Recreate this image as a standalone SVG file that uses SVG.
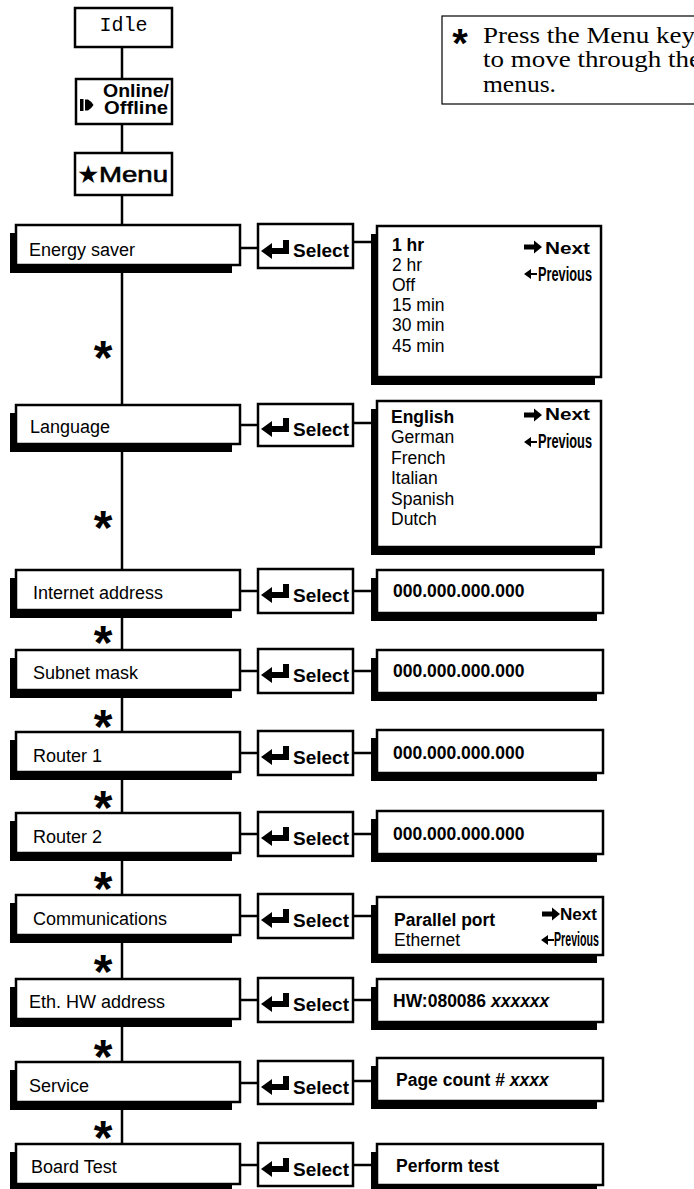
<svg xmlns="http://www.w3.org/2000/svg" width="694" height="1189" viewBox="0 0 694 1189">
<style>
.bx{fill:#fff;stroke:#000;stroke-width:2.5}
.sh{fill:#000}
.ln{stroke:#000;stroke-width:2.5;fill:none}
.lbl{font-family:"Liberation Sans",Arial,sans-serif;font-size:18px;fill:#000}
.opt{font-family:"Liberation Sans",Arial,sans-serif;font-size:17.5px;fill:#000}
.b{font-weight:bold}
.i{font-style:italic}
.sel{font-family:"Liberation Sans",Arial,sans-serif;font-size:19px;font-weight:bold;fill:#000}
.ast{font-family:"Liberation Sans",Arial,sans-serif;font-size:48px;font-weight:bold;fill:#000;text-anchor:middle}
.nav{font-family:"Liberation Sans",Arial,sans-serif;font-size:17px;font-weight:bold;fill:#000}
.prv{font-family:"Liberation Sans",Arial,sans-serif;font-size:19.5px;font-weight:bold;fill:#000}
.note{font-family:"Liberation Serif","Times New Roman",serif;font-size:24px;fill:#000}
</style>
<defs>
<path id="enter" d="M3,27 L14,19 L14,24 L25,24 L25,16 L31,16 L31,30 L14,30 L14,35 Z" fill="#000"/>
<path id="nxt" d="M0,-2.5 H10 V-6.5 L18,0 L10,6.5 V2.5 H0 Z" fill="#000"/>
<path id="prv" d="M0,0 L7,-5 V-1 H13 V1 H7 V5 Z" fill="#000"/>
</defs>

<g id="connectors">
<path class="ln" d="M122,47 V1150"/>
<path class="ln" d="M240,248 H258 M353,242 H377"/>
<path class="ln" d="M240,425 H258 M353,423 H377"/>
<path class="ln" d="M240,591 H258 M353,591 H377"/>
<path class="ln" d="M240,671 H258 M353,671 H377"/>
<path class="ln" d="M240,753 H258 M353,753 H377"/>
<path class="ln" d="M240,834 H258 M353,834 H377"/>
<path class="ln" d="M240,916 H258 M353,916 H377"/>
<path class="ln" d="M240,1000 H258 M353,1000 H377"/>
<path class="ln" d="M240,1083 H258 M353,1081 H377"/>
<path class="ln" d="M240,1165 H258 M353,1165 H377"/>
<text class="ast" x="103" y="374">*</text>
<text class="ast" x="103" y="544">*</text>
<text class="ast" x="103" y="659">*</text>
<text class="ast" x="103" y="743">*</text>
<text class="ast" x="103" y="824">*</text>
<text class="ast" x="103" y="905">*</text>
<text class="ast" x="103" y="988">*</text>
<text class="ast" x="103" y="1073">*</text>
<text class="ast" x="103" y="1154">*</text>
</g>

<g id="note">
<rect x="442" y="16" width="270" height="88" fill="none" stroke="#000" stroke-width="1.2"/>
<text class="ast" x="460" y="57" style="font-size:40px">*</text>
<text class="note" x="483" y="43" textLength="212" lengthAdjust="spacingAndGlyphs">Press the Menu key</text>
<text class="note" x="483" y="67" textLength="218" lengthAdjust="spacingAndGlyphs">to move through the</text>
<text class="note" x="483" y="92" textLength="73" lengthAdjust="spacingAndGlyphs">menus.</text>
</g>

<g id="idle">
<rect class="bx" x="75" y="8" width="97" height="39" stroke-width="2"/>
<text x="123.5" y="31" text-anchor="middle" style="font-family:'Liberation Mono','Courier New',monospace;font-size:20px">Idle</text>
</g>

<g id="online">
<rect class="bx" x="76" y="79" width="96" height="45" stroke-width="2.2"/>
<rect x="80" y="99" width="3.5" height="12" fill="#000"/>
<path d="M85,99.5 H88 Q91,101 93.5,105 Q91,109 88,110.5 H85 Z" fill="#000"/>
<text class="sel" x="103" y="97" textLength="66" lengthAdjust="spacingAndGlyphs" style="font-size:18px">Online/</text>
<text class="sel" x="104" y="114" textLength="64" lengthAdjust="spacingAndGlyphs" style="font-size:18px">Offline</text>
</g>

<g id="menu">
<rect class="bx" x="75" y="153" width="97" height="42" stroke-width="3"/>
<text x="77" y="183" style="font-family:'DejaVu Sans',sans-serif;font-size:25px">★</text>
<text x="99" y="182" textLength="69" lengthAdjust="spacingAndGlyphs" style="font-family:'Liberation Sans',Arial,sans-serif;font-size:22px;stroke:#000;stroke-width:0.6">Menu</text>
</g>

<!-- Row: Energy saver -->
<g id="energy-saver">
<rect class="sh" x="10" y="233" width="222" height="40"/>
<rect class="bx" x="16" y="225" width="224" height="40"/>
<text class="lbl" x="29" y="256">Energy saver</text>
</g>
<g id="energy-select">
<rect class="bx" x="258" y="224" width="95" height="44"/>
<use href="#enter" x="258" y="224"/>
<text class="sel" x="293" y="257" textLength="56" lengthAdjust="spacingAndGlyphs">Select</text>
</g>
<g id="energy-options">
<rect class="sh" x="371" y="234" width="224" height="151"/>
<rect class="bx" x="377" y="226" width="224" height="151"/>
<text class="opt b" x="392" y="251">1 hr</text>
<text class="opt" x="392" y="271">2 hr</text>
<text class="opt" x="392" y="291">Off</text>
<text class="opt" x="392" y="311">15 min</text>
<text class="opt" x="392" y="331">30 min</text>
<text class="opt" x="392" y="352">45 min</text>
<use href="#nxt" x="524" y="247"/>
<text class="nav" x="545" y="254" textLength="45" lengthAdjust="spacingAndGlyphs">Next</text>
<use href="#prv" x="524" y="274"/>
<text class="prv" x="538" y="281" textLength="54" lengthAdjust="spacingAndGlyphs">Previous</text>
</g>

<!-- Row: Language -->
<g id="language">
<rect class="sh" x="10" y="413" width="222" height="39"/>
<rect class="bx" x="16" y="405" width="224" height="39"/>
<text class="lbl" x="30" y="433">Language</text>
</g>
<g id="language-select">
<rect class="bx" x="258" y="404" width="95" height="42"/>
<use href="#enter" x="258" y="402"/>
<text class="sel" x="293" y="436" textLength="56" lengthAdjust="spacingAndGlyphs">Select</text>
</g>
<g id="language-options">
<rect class="sh" x="371" y="409" width="224" height="146"/>
<rect class="bx" x="377" y="401" width="224" height="146"/>
<text class="opt b" x="391" y="423">English</text>
<text class="opt" x="391" y="443">German</text>
<text class="opt" x="391" y="464">French</text>
<text class="opt" x="391" y="484">Italian</text>
<text class="opt" x="391" y="505">Spanish</text>
<text class="opt" x="391" y="525">Dutch</text>
<use href="#nxt" x="524" y="415"/>
<text class="nav" x="545" y="420" textLength="45" lengthAdjust="spacingAndGlyphs">Next</text>
<use href="#prv" x="524" y="442"/>
<text class="prv" x="538" y="448" textLength="54" lengthAdjust="spacingAndGlyphs">Previous</text>
</g>

<!-- Row: Internet address -->
<g id="internet-address">
<rect class="sh" x="10" y="578" width="222" height="40"/>
<rect class="bx" x="16" y="570" width="224" height="40"/>
<text class="lbl" x="33" y="599">Internet address</text>
</g>
<g id="internet-select">
<rect class="bx" x="258" y="569" width="95" height="44"/>
<use href="#enter" x="258" y="568"/>
<text class="sel" x="293" y="602" textLength="56" lengthAdjust="spacingAndGlyphs">Select</text>
</g>
<g id="internet-value">
<rect class="sh" x="371" y="578" width="226" height="43"/>
<rect class="bx" x="377" y="570" width="226" height="43"/>
<text class="opt b" x="393" y="597">000.000.000.000</text>
</g>

<!-- Row: Subnet mask -->
<g id="subnet-mask">
<rect class="sh" x="10" y="658" width="222" height="40"/>
<rect class="bx" x="16" y="650" width="224" height="40"/>
<text class="lbl" x="33" y="679">Subnet mask</text>
</g>
<g id="subnet-select">
<rect class="bx" x="258" y="649" width="95" height="44"/>
<use href="#enter" x="258" y="648"/>
<text class="sel" x="293" y="682" textLength="56" lengthAdjust="spacingAndGlyphs">Select</text>
</g>
<g id="subnet-value">
<rect class="sh" x="371" y="658" width="226" height="43"/>
<rect class="bx" x="377" y="650" width="226" height="43"/>
<text class="opt b" x="393" y="677">000.000.000.000</text>
</g>

<!-- Row: Router 1 -->
<g id="router-1">
<rect class="sh" x="10" y="740" width="222" height="40"/>
<rect class="bx" x="16" y="732" width="224" height="40"/>
<text class="lbl" x="33" y="762">Router 1</text>
</g>
<g id="router1-select">
<rect class="bx" x="258" y="731" width="95" height="44"/>
<use href="#enter" x="258" y="730"/>
<text class="sel" x="293" y="764" textLength="56" lengthAdjust="spacingAndGlyphs">Select</text>
</g>
<g id="router1-value">
<rect class="sh" x="371" y="738" width="226" height="43"/>
<rect class="bx" x="377" y="730" width="226" height="43"/>
<text class="opt b" x="393" y="759">000.000.000.000</text>
</g>

<!-- Row: Router 2 -->
<g id="router-2">
<rect class="sh" x="10" y="821" width="222" height="40"/>
<rect class="bx" x="16" y="813" width="224" height="40"/>
<text class="lbl" x="33" y="843">Router 2</text>
</g>
<g id="router2-select">
<rect class="bx" x="258" y="812" width="95" height="44"/>
<use href="#enter" x="258" y="811"/>
<text class="sel" x="293" y="845" textLength="56" lengthAdjust="spacingAndGlyphs">Select</text>
</g>
<g id="router2-value">
<rect class="sh" x="371" y="819" width="226" height="43"/>
<rect class="bx" x="377" y="811" width="226" height="43"/>
<text class="opt b" x="393" y="840">000.000.000.000</text>
</g>

<!-- Row: Communications -->
<g id="communications">
<rect class="sh" x="10" y="903" width="222" height="40"/>
<rect class="bx" x="16" y="895" width="224" height="40"/>
<text class="lbl" x="33" y="925">Communications</text>
</g>
<g id="comms-select">
<rect class="bx" x="258" y="894" width="95" height="44"/>
<use href="#enter" x="258" y="893"/>
<text class="sel" x="293" y="927" textLength="56" lengthAdjust="spacingAndGlyphs">Select</text>
</g>
<g id="comms-options">
<rect class="sh" x="371" y="905" width="226" height="58"/>
<rect class="bx" x="377" y="897" width="226" height="58"/>
<text class="opt b" x="394" y="926">Parallel port</text>
<text class="opt" x="394" y="946">Ethernet</text>
<use href="#nxt" x="542" y="914"/>
<text class="nav" x="560" y="920" textLength="37" lengthAdjust="spacingAndGlyphs">Next</text>
<use href="#prv" x="541" y="940"/>
<text class="prv" x="554" y="946" textLength="45" lengthAdjust="spacingAndGlyphs">Previous</text>
</g>

<!-- Row: Eth. HW address -->
<g id="eth-hw-address">
<rect class="sh" x="10" y="987" width="222" height="40"/>
<rect class="bx" x="16" y="979" width="224" height="40"/>
<text class="lbl" x="29" y="1008">Eth. HW address</text>
</g>
<g id="ethhw-select">
<rect class="bx" x="258" y="978" width="95" height="44"/>
<use href="#enter" x="258" y="977"/>
<text class="sel" x="293" y="1011" textLength="56" lengthAdjust="spacingAndGlyphs">Select</text>
</g>
<g id="ethhw-value">
<rect class="sh" x="371" y="987" width="226" height="43"/>
<rect class="bx" x="377" y="979" width="226" height="43"/>
<text class="opt b" x="393" y="1007">HW:080086 <tspan class="i">xxxxxx</tspan></text>
</g>

<!-- Row: Service -->
<g id="service">
<rect class="sh" x="10" y="1070" width="222" height="40"/>
<rect class="bx" x="16" y="1062" width="224" height="40"/>
<text class="lbl" x="29" y="1092">Service</text>
</g>
<g id="service-select">
<rect class="bx" x="258" y="1061" width="95" height="43"/>
<use href="#enter" x="258" y="1060"/>
<text class="sel" x="293" y="1094" textLength="56" lengthAdjust="spacingAndGlyphs">Select</text>
</g>
<g id="service-value">
<rect class="sh" x="371" y="1066" width="226" height="43"/>
<rect class="bx" x="377" y="1058" width="226" height="43"/>
<text class="opt b" x="396" y="1086">Page count # <tspan class="i">xxxx</tspan></text>
</g>

<!-- Row: Board Test -->
<g id="board-test">
<rect class="sh" x="10" y="1152" width="222" height="40"/>
<rect class="bx" x="16" y="1144" width="224" height="40"/>
<text class="lbl" x="31" y="1173">Board Test</text>
</g>
<g id="board-select">
<rect class="bx" x="258" y="1143" width="95" height="43"/>
<use href="#enter" x="258" y="1142"/>
<text class="sel" x="293" y="1176" textLength="56" lengthAdjust="spacingAndGlyphs">Select</text>
</g>
<g id="board-value">
<rect class="sh" x="371" y="1152" width="226" height="43"/>
<rect class="bx" x="377" y="1144" width="226" height="41"/>
<text class="opt b" x="396" y="1172">Perform test</text>
</g>
</svg>
